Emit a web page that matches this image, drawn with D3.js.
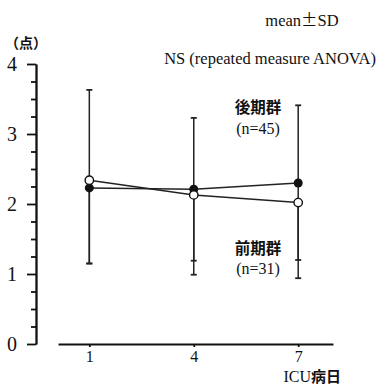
<!DOCTYPE html>
<html>
<head>
<meta charset="utf-8">
<script src="https://cdn.jsdelivr.net/npm/d3@7"></script>
<style>
body{margin:0;background:#fff;}
svg{display:block;}
</style>
</head>
<body>
<script>
//chart data
var days = [1, 4, 7];
var yTicks = [0, 1, 2, 3, 4];
var lateMean = [2.23, 2.21, 2.30];   //後期群 (n=45), filled
var lateHi = [3.63, 3.23, 3.41];
var lateLo = [1.15, 1.19, 1.20];
var earlyMean = [2.34, 2.13, 2.02];  //前期群 (n=31), open
var earlyLo = [1.15, 0.99, 0.94];

var SERIF = "'Liberation Serif','DejaVu Serif',serif";
var CJK = "'Noto Sans CJK JP','Noto Sans CJK SC',sans-serif";

var width = 378, height = 386;

var svg = d3.select("body").append("svg")
    .attr("width", width)
    .attr("height", height);

var x = d3.scaleLinear().domain([0.1, 8]).range([58, 333]);
var y = d3.scaleLinear().domain([0, 4]).range([344, 64]);

//y axis, major and minor ticks
var minor = d3.range(0, 4.01, 0.25).filter(function(v){ return v % 1 != 0; });
svg.append("g")
    .attr("transform", "translate(36,0)")
    .call(d3.axisLeft(y).tickValues(minor).tickSize(5).tickSizeOuter(0).tickFormat(""))
    .call(function(g){ g.selectAll("line,path").attr("stroke", "#111").attr("stroke-width", 1.8); });

var yAxis = svg.append("g")
    .attr("transform", "translate(36,0)")
    .call(d3.axisLeft(y).tickValues(yTicks).tickSize(9).tickSizeOuter(0).tickPadding(10).tickFormat(d3.format("d")));
yAxis.selectAll("line,path").attr("stroke", "#111").attr("stroke-width", 1.8);
yAxis.selectAll("text")
    .style("font-family", SERIF)
    .style("font-size", "20px")
    .attr("fill", "#111");

//x axis
var xAxis = svg.append("g")
    .attr("transform", "translate(0,344)")
    .call(d3.axisBottom(x).tickValues(days).tickSize(3).tickSizeOuter(0).tickPadding(4));
xAxis.selectAll("line,path").attr("stroke", "#111").attr("stroke-width", 1.8);
xAxis.selectAll("text")
    .style("font-family", SERIF)
    .style("font-size", "16px")
    .attr("fill", "#111");

var line = d3.line()
    .x(function(d, i){ return x(days[i]); })
    .y(function(d){ return y(d); });

//error bars
function bars(lo, hi){
    days.forEach(function(d, i){
        svg.append("line")
            .attr("x1", x(d)).attr("x2", x(d))
            .attr("y1", y(lo[i])).attr("y2", y(hi[i]))
            .attr("stroke", "#222").attr("stroke-width", 1.5);
        [lo[i], hi[i]].forEach(function(v){
            svg.append("line")
                .attr("x1", x(d) - 3).attr("x2", x(d) + 3)
                .attr("y1", y(v)).attr("y2", y(v))
                .attr("stroke", "#222").attr("stroke-width", 1.8);
        });
    });
}
bars(lateLo, lateHi);
bars(earlyLo, earlyMean);

//lines
svg.append("path").datum(lateMean).attr("d", line)
    .attr("fill", "none").attr("stroke", "#222").attr("stroke-width", 1.5);
svg.append("path").datum(earlyMean).attr("d", line)
    .attr("fill", "none").attr("stroke", "#222").attr("stroke-width", 1.5);

//points
svg.selectAll(".late").data(lateMean).enter().append("circle")
    .attr("cx", function(d, i){ return x(days[i]); })
    .attr("cy", function(d){ return y(d); })
    .attr("r", 4.5).attr("fill", "#111");
svg.selectAll(".early").data(earlyMean).enter().append("circle")
    .attr("cx", function(d, i){ return x(days[i]); })
    .attr("cy", function(d){ return y(d); })
    .attr("r", 4.2).attr("fill", "#fff").attr("stroke", "#111").attr("stroke-width", 1.4);

//texts
function txt(str, px, py, size, fam, anchor, weight){
    return svg.append("text").attr("x", px).attr("y", py)
        .attr("text-anchor", anchor || "middle")
        .style("font-family", fam).style("font-weight", weight || "normal")
        .style("font-size", size + "px").attr("fill", "#111").text(str);
}
var ms = svg.append("text").attr("x", 302).attr("y", 26)
    .attr("text-anchor", "middle").attr("fill", "#111")
    .style("font-family", SERIF).style("font-size", "16.5px");
ms.append("tspan").text("mean");
ms.append("tspan").style("font-family", CJK).text("\u00B1");
ms.append("tspan").text("SD");
txt("NS (repeated measure ANOVA)", 376, 64, 16.5, SERIF, "end");
txt("（点）", 26, 48, 14, CJK, "middle", "bold");
txt("後期群", 258, 113, 15.5, CJK, "middle", "bold");
txt("(n=45)", 258, 134, 16, SERIF);
txt("前期群", 258, 254, 15.5, CJK, "middle", "bold");
txt("(n=31)", 258, 274, 16, SERIF);
var lab = svg.append("text").attr("x", 341).attr("y", 382)
    .attr("text-anchor", "end").attr("fill", "#111");
lab.append("tspan").style("font-family", SERIF).style("font-size", "16px").text("ICU");
lab.append("tspan").style("font-family", CJK).style("font-weight", "bold").style("font-size", "15px").text("病日");
</script>
</body>
</html>
